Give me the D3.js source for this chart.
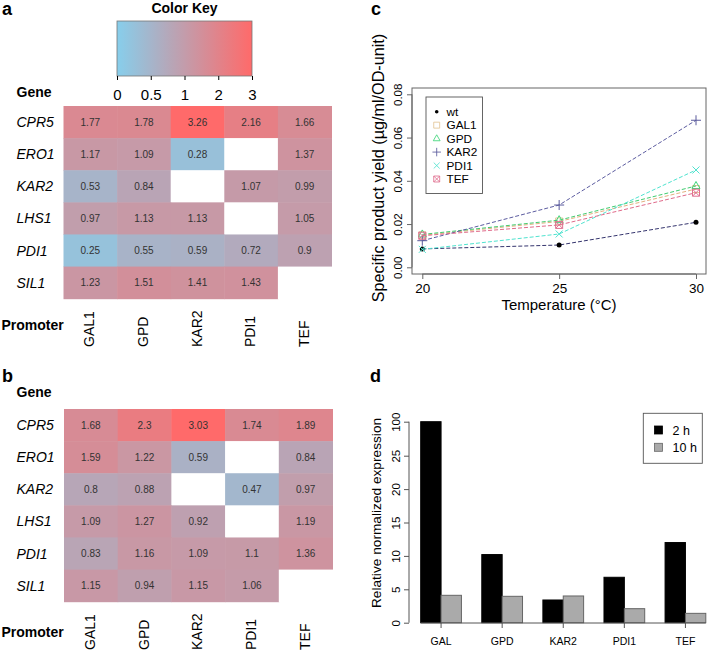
<!DOCTYPE html>
<html><head><meta charset="utf-8">
<script src="https://cdn.jsdelivr.net/npm/d3@7"></script>
<style>body{margin:0;background:#fff}svg{font-family:"Liberation Sans",Arial,sans-serif;display:block}</style>
</head><body>
<svg id="fig" width="709" height="653"></svg>
<script>
// ---------- data ----------
const genes = ["CPR5","ERO1","KAR2","LHS1","PDI1","SIL1"];
const promoters = ["GAL1","GPD","KAR2","PDI1","TEF"];
const heatA = [
  [1.77,1.78,3.26,2.16,1.66],
  [1.17,1.09,0.28,null,1.37],
  [0.53,0.84,null,1.07,0.99],
  [0.97,1.13,1.13,null,1.05],
  [0.25,0.55,0.59,0.72,0.9],
  [1.23,1.51,1.41,1.43,null]
];
const heatB = [
  [1.68,2.3,3.03,1.74,1.89],
  [1.59,1.22,0.59,null,0.84],
  [0.8,0.88,null,0.47,0.97],
  [1.09,1.27,0.92,null,1.19],
  [0.83,1.16,1.09,1.1,1.36],
  [1.15,0.94,1.15,1.06,null]
];
const keyTicks = [0,0.5,1,2,3];

const temps = [20,25,30];
const seriesNames = ["wt","GAL1","GPD","KAR2","PDI1","TEF"];
const wt   = [0.0085,0.0103,0.0208];
const gal1 = [0.0148,0.0212,0.0362];
const gpd  = [0.0152,0.0218,0.0376];
const kar2 = [0.0123,0.0288,0.0680];
const pdi1 = [0.0083,0.0154,0.0450];
const tef  = [0.0146,0.0196,0.0345];
const yieldTicks = [0,0.02,0.04,0.06,0.08];

const exprCats = ["GAL","GPD","KAR2","PDI1","TEF"];
const times = ["2 h","10 h"];
const expr2h  = [100,10.2,3.4,6.8,12.0];
const expr10h = [4.1,3.95,4.0,2.1,1.4];
const exprTicks = [0,5,10,15,20,25,100];

// ---------- setup ----------
const svg = d3.select("#fig");
const FONT = '"Liberation Sans",Arial,sans-serif';
const tScale = d3.scaleLinear().domain(keyTicks).range([0,0.25,0.5,0.75,1]).clamp(true);
const interp = d3.interpolateRgb("#87ceeb","#ff6a6a");
const cellColor = v => interp(tScale(v));

function panelLabel(txt,x,y){
  svg.append("text").attr("x",x).attr("y",y).attr("font-size",18).attr("font-weight","bold").text(txt);
}

// ---------- Color key ----------
const keyX = d3.scaleLinear().domain(keyTicks).range([117,150.75,184.5,218.25,252]);
const grad = svg.append("defs").append("linearGradient").attr("id","kg");
d3.range(0,1.0001,0.05).forEach(t=>grad.append("stop").attr("offset",t).attr("stop-color",interp(t)));
svg.append("text").attr("x",184.5).attr("y",13).attr("text-anchor","middle")
  .attr("font-size",14).attr("font-weight","bold").text("Color Key");
svg.append("rect").attr("x",keyX(0)).attr("y",21).attr("width",keyX(3)-keyX(0)).attr("height",55)
  .attr("fill","url(#kg)").attr("stroke","#777").attr("stroke-width",0.8);
const keyAxis = svg.append("g").attr("transform","translate(0,76)")
  .call(d3.axisBottom(keyX).tickValues(keyTicks).tickFormat(d3.format("")).tickSize(4).tickSizeOuter(0));
keyAxis.select(".domain").remove();
keyAxis.selectAll("text").attr("font-size",15).attr("font-family",FONT).attr("fill","#000").attr("dy","1.12em");
keyAxis.selectAll("line").attr("stroke","#000");

// ---------- heatmaps ----------
function heatmap(data, xr, yr, geneY, promY, colLabelY){
  const x = d3.scaleBand().domain(promoters).range(xr);
  const y = d3.scaleBand().domain(genes).range(yr);
  const g = svg.append("g");
  const cells = [];
  data.forEach((row,i)=>row.forEach((v,j)=>cells.push({g:genes[i],p:promoters[j],v})));
  g.selectAll("rect").data(cells).join("rect")
    .attr("x",d=>x(d.p)).attr("y",d=>y(d.g))
    .attr("width",x.bandwidth()+0.5).attr("height",y.bandwidth()+0.5)
    .attr("fill",d=>d.v==null?"#fff":cellColor(d.v));
  g.selectAll("text.v").data(cells.filter(d=>d.v!=null)).join("text").attr("class","v")
    .attr("x",d=>x(d.p)+x.bandwidth()/2).attr("y",d=>y(d.g)+y.bandwidth()/2)
    .attr("dy","0.35em").attr("text-anchor","middle").attr("font-size",10).attr("fill","#333")
    .text(d=>d.v);
  g.selectAll("text.r").data(genes).join("text").attr("class","r")
    .attr("x",16.5).attr("y",d=>y(d)+y.bandwidth()/2).attr("dy","0.36em")
    .attr("font-size",14).attr("font-style","italic").text(d=>d);
  g.selectAll("text.c").data(promoters).join("text").attr("class","c")
    .attr("transform",d=>`translate(${x(d)+x.bandwidth()/2+4},${colLabelY}) rotate(-90)`)
    .attr("font-size",14).text(d=>d);
  g.append("text").attr("x",16.5).attr("y",geneY).attr("font-size",14).attr("font-weight","bold").text("Gene");
  g.append("text").attr("x",1.5).attr("y",promY).attr("font-size",14).attr("font-weight","bold").text("Promoter");
}
panelLabel("a",2,15);
heatmap(heatA,[63.5,331.5],[106,298.7],96.5,330,347);
panelLabel("b",2,382);
heatmap(heatB,[64,332.5],[409,601.7],396.5,636.5,650);

// ---------- panel c ----------
panelLabel("c",371,15);
const cx = d3.scaleLinear().domain([20,30]).range([422.3,696]);
const cy = d3.scaleLinear().domain([0,0.08]).range([267.3,94.3]);
svg.append("rect").attr("x",412).attr("y",88).attr("width",294).attr("height",186)
  .attr("fill","none").attr("stroke","#666").attr("stroke-width",1);
const cxa = svg.append("g").attr("transform","translate(0,274)")
  .call(d3.axisBottom(cx).tickValues(temps).tickSize(5).tickSizeOuter(0));
cxa.select(".domain").attr("stroke","#666").attr("d","M422.3,0H696");
cxa.selectAll("line").attr("stroke","#666");
cxa.selectAll("text").attr("font-size",13.5).attr("font-family",FONT).attr("fill","#000")
  .attr("y",0).attr("dy",0).attr("transform","translate(0,18.5)");
const cya = svg.append("g").attr("transform","translate(412,0)")
  .call(d3.axisLeft(cy).tickValues(yieldTicks).tickFormat(d3.format(".2f")).tickSize(5).tickSizeOuter(0));
cya.select(".domain").attr("stroke","#666").attr("d","M0,267.3V94.3");
cya.selectAll("line").attr("stroke","#666");
cya.selectAll("text").attr("font-size",11.5).attr("font-family",FONT).attr("fill","#000")
  .attr("text-anchor","middle").attr("x",0).attr("dy",0)
  .attr("transform","translate(-10,0) rotate(-90)");
svg.append("text").attr("x",559).attr("y",309.5).attr("text-anchor","middle").attr("font-size",15)
  .text("Temperature (°C)");
svg.append("text").attr("transform","translate(384,168) rotate(-90)").attr("text-anchor","middle")
  .attr("font-size",16.2).text("Specific product yield (µg/ml/OD-unit)");

const seriesVals = [wt,gal1,gpd,kar2,pdi1,tef];
const pointCol = ["#000","#e3c596","#3ed67a","#5a5a9c","#4fe3cf","#e07090"];
const lineCol  = ["#35356e","#e3b080","#40cc70","#5c5ca0","#4fe3cf","#e06a8a"];
const symPath = [
  null,
  "M-3.5,-3.5h7v7h-7z",
  "M0,-4.5L4,2.5H-4Z",
  "M-5,0H5M0,-5V5",
  "M-3.5,-3.5L3.5,3.5M-3.5,3.5L3.5,-3.5",
  "M-3.5,-3.5h7v7h-7zM-3.5,-3.5L3.5,3.5M-3.5,3.5L3.5,-3.5"
];
const line = d3.line().x((d,i)=>cx(temps[i])).y(d=>cy(d));
seriesVals.forEach((vals,k)=>{
  svg.append("path").attr("d",line(vals)).attr("fill","none").attr("stroke",lineCol[k])
    .attr("stroke-width",1).attr("stroke-dasharray","4,2");
  const gp = svg.append("g");
  vals.forEach((v,i)=>{
    if(k===0) gp.append("circle").attr("cx",cx(temps[i])).attr("cy",cy(v)).attr("r",2.5).attr("fill","#000");
    else gp.append("path").attr("transform",`translate(${cx(temps[i])},${cy(v)})`).attr("d",symPath[k])
      .attr("fill","none").attr("stroke",pointCol[k]).attr("stroke-width",1);
  });
});
// legend c
svg.append("rect").attr("x",426).attr("y",97).attr("width",56.5).attr("height",96.5)
  .attr("fill","#fff").attr("stroke","#555").attr("stroke-width",0.9);
const ly = d3.scaleLinear().domain([0,5]).range([111.7,179]);
seriesNames.forEach((s,k)=>{
  const yy = ly(k);
  if(k===0) svg.append("circle").attr("cx",436.7).attr("cy",yy).attr("r",1.8).attr("fill","#000");
  else svg.append("path").attr("transform",`translate(436.7,${yy}) scale(0.85)`).attr("d",symPath[k])
    .attr("fill","none").attr("stroke",pointCol[k]).attr("stroke-width",1);
  svg.append("text").attr("x",446.5).attr("y",yy).attr("dy","0.36em").attr("font-size",11.8).text(s);
});

// ---------- panel d ----------
panelLabel("d",370,382);
const dx = d3.scaleBand().domain(exprCats).range([420.7,705.8]).paddingInner(1/3).paddingOuter(0);
const dsub = d3.scaleBand().domain(times).range([0,dx.bandwidth()]);
const dy = d3.scaleLinear().domain([0,25,100]).range([622.7,455.7,421.7]);
const barData = [];
exprCats.forEach((c,i)=>{barData.push({c,t:times[0],v:expr2h[i]});barData.push({c,t:times[1],v:expr10h[i]});});
svg.append("g").selectAll("rect").data(barData).join("rect")
  .attr("x",d=>dx(d.c)+dsub(d.t)).attr("y",d=>dy(d.v))
  .attr("width",dsub.bandwidth()).attr("height",d=>dy(0)-dy(d.v))
  .attr("fill",d=>d.t===times[0]?"#000":"#aaa").attr("stroke",d=>d.t===times[0]?"#000":"#666").attr("stroke-width",1);
svg.append("line").attr("x1",420.7).attr("x2",705.8).attr("y1",623).attr("y2",623).attr("stroke","#555");
const dxa = svg.append("g").attr("transform","translate(0,623)")
  .call(d3.axisBottom(dx).tickSize(5).tickSizeOuter(0));
dxa.select(".domain").remove();
dxa.selectAll(".tick").attr("transform",d=>`translate(${dx(d)+dx.bandwidth()/2},0)`);
dxa.selectAll("line").attr("stroke","#555");
dxa.selectAll("text").attr("font-size",10.5).attr("font-family",FONT).attr("fill","#000").attr("dy","1.35em");
const dya = svg.append("g").attr("transform","translate(409,0)")
  .call(d3.axisLeft(dy).tickValues(exprTicks).tickFormat(d3.format("d")).tickSize(5).tickSizeOuter(0));
dya.select(".domain").attr("stroke","#555").attr("d","M0,622.7V421.7");
dya.selectAll("line").attr("stroke","#555");
dya.selectAll("text").attr("font-size",11.5).attr("font-family",FONT).attr("fill","#000")
  .attr("text-anchor","middle").attr("x",0).attr("dy",0)
  .attr("transform","translate(-9,0) rotate(-90)");
svg.append("text").attr("transform","translate(381,513) rotate(-90)").attr("text-anchor","middle")
  .attr("font-size",13.7).text("Relative normalized expression");
// legend d
svg.append("rect").attr("x",643.3).attr("y",413.3).attr("width",59).attr("height",50)
  .attr("fill","#fff").attr("stroke","#555").attr("stroke-width",0.9);
times.forEach((t,i)=>{
  const yy = 430 + i*17.3;
  svg.append("rect").attr("x",654.5).attr("y",yy-4).attr("width",8).attr("height",8)
    .attr("fill",i===0?"#000":"#aaa").attr("stroke",i===0?"#000":"#666").attr("stroke-width",0.8);
  svg.append("text").attr("x",672.5).attr("y",yy).attr("dy","0.36em").attr("font-size",12.5).text(t);
});
</script>
</body></html>
